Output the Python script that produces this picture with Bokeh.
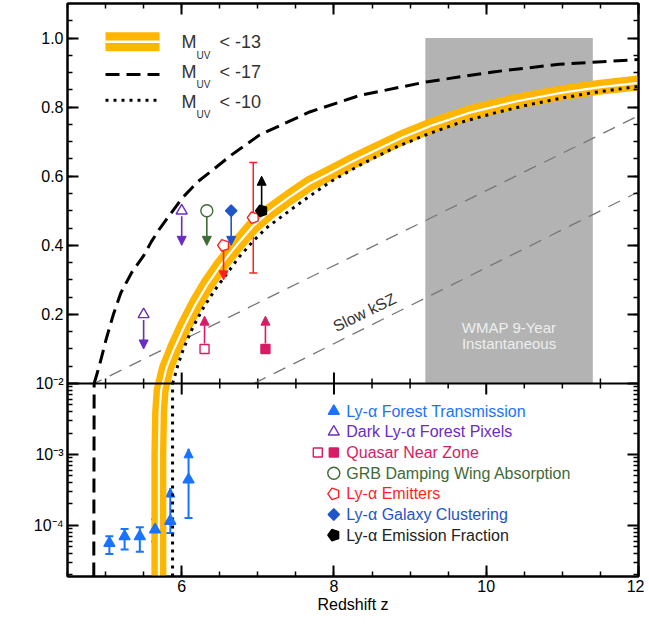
import numpy as np
from bokeh.plotting import figure
from bokeh.models import (Range1d, LogScale, LinearAxis, FixedTicker, SingleIntervalTicker,
                          CustomJSTickFormatter, Span, Label, Arrow, NormalHead, TeeHead,
                          Whisker, ColumnDataSource)
from bokeh.embed import file_html
from bokeh.resources import INLINE
from bokeh.core.properties import value

# ------------------------------------------------------------------ data
# 1 - Q_HII histories (linear panel)
z_m13 = [5.75, 5.80, 5.90, 6.04, 6.19, 6.34, 6.52, 6.72, 6.93, 7.15, 7.42, 7.68, 7.94,
         8.20, 8.50, 8.90, 9.30, 9.80, 10.40, 11.00, 11.50, 12.00]
q_m13 = [0.0, 0.045, 0.10, 0.168, 0.232, 0.288, 0.345, 0.40, 0.454, 0.497, 0.54, 0.579, 0.608,
         0.638, 0.67, 0.712, 0.748, 0.785, 0.817, 0.842, 0.858, 0.87]
z_m17 = [4.85, 4.92, 5.01, 5.10, 5.20, 5.34, 5.50, 5.60, 5.70, 5.80, 5.90, 6.00, 6.21, 6.43,
         6.65, 7.02, 7.68, 8.34, 9.21, 10.09, 10.96, 12.00]
q_m17 = [0.0, 0.053, 0.13, 0.198, 0.262, 0.32, 0.37, 0.41, 0.445, 0.475, 0.505, 0.535, 0.584,
         0.622, 0.661, 0.719, 0.786, 0.834, 0.873, 0.902, 0.924, 0.938]
z_m10 = [5.88, 5.90, 5.95, 6.01, 6.08, 6.15, 6.30, 6.45, 6.60, 6.75, 6.93, 7.11, 7.33, 7.55,
         7.77, 7.96, 8.34, 8.77, 9.21, 9.65, 10.09, 10.52, 10.96, 11.40, 12.00]
q_m10 = [0.0, 0.014, 0.053, 0.092, 0.13, 0.164, 0.225, 0.275, 0.32, 0.365, 0.41, 0.45, 0.486,
         0.522, 0.556, 0.585, 0.632, 0.68, 0.72, 0.755, 0.782, 0.805, 0.825, 0.842, 0.86]

# same histories in the log panel (near-vertical drops)
z_m13_log = [5.70, 5.70, 5.71, 5.73, 5.75]
q_m13_log = [1.9e-5, 1e-3, 4e-3, 8e-3, 1e-2]
z_m17_log = [4.845, 4.85]
q_m17_log = [1.9e-5, 1e-2]
z_m10_log = [5.88, 5.88]
q_m10_log = [1.9e-5, 1e-2]

# slow kSZ bounds and WMAP 9-year band
ksz_hi_z = [4.50, 4.85, 12.0]
ksz_hi_q = [0.0, 0.0, 0.775]
ksz_lo_z = [6.95, 12.0]
ksz_lo_q = [0.0, 0.555]
wmap_z = [9.2, 11.4]
wmap_q = [0.0, 1.0]

# observational constraints (linear panel)
dark_z, dark_q, dark_to = [6.00, 5.50], [0.50, 0.20], [0.40, 0.10]
qnz_open_z, qnz_open_q, qnz_open_to = [6.30], [0.10], [0.195]
qnz_fill_z, qnz_fill_q, qnz_fill_to = [7.10], [0.10], [0.195]
grb_z, grb_q, grb_to = [6.33], [0.50], [0.40]
lae_lim_z, lae_lim_q, lae_lim_to = [6.55], [0.40], [0.30]
lae_z, lae_q, lae_hi, lae_lo = [6.94], [0.48], [0.64], [0.32]
clus_z, clus_q, clus_to = [6.65], [0.50], [0.40]
frac_z, frac_q, frac_to = [7.05], [0.50], [0.60]

# Ly-alpha forest transmission (log panel)
lyaf_z = [5.05, 5.25, 5.45, 5.65, 5.85, 6.09]
lyaf_q = [5.6e-5, 7.0e-5, 7.0e-5, 8.7e-5, 1.15e-4, 4.4e-4]
lyaf_hi = [7.0e-5, 8.9e-5, 9.4e-5, 1.22e-4, 3.35e-4, 1.2e-3]
lyaf_lo = [3.95e-5, 4.55e-5, 4.25e-5, 5.9e-5, 7.8e-5, 1.27e-4]
lyaf_hi_arrow = [False, False, False, False, True, True]

legend_labels = ["Ly-α Forest Transmission", "Dark Ly-α Forest Pixels", "Quasar Near Zone",
                 "GRB Damping Wing Absorption", "Ly-α Emitters", "Ly-α Galaxy Clustering",
                 "Ly-α Emission Fraction"]
muv_labels = ["< -13", "< -17", "< -10"]

# ------------------------------------------------------------------ style
ORANGE = "#ffb600"
C_LYAF = "#1a73ff"
C_DARK = "#6a2cc4"
C_QNZ = "#d81b65"
C_GRB = "#3f6a36"
C_LAE = "#ff1f1f"
C_CLUS = "#1f55c8"
C_FRAC = "#000000"
FONT = "Liberation Sans"

H_TOP, H_BOT = 380, 193
V_MAX = 1.1
LOG_MIN, LOG_MAX = 1.9e-5, 1e-2
PX_PER_V = H_TOP / V_MAX
V_MIN = -H_BOT / PX_PER_V
DEC_PX = H_BOT / np.log10(LOG_MAX / LOG_MIN)
LOG_TOP = LOG_MAX * 10 ** (H_TOP / DEC_PX)
V_PER_DEC = DEC_PX / PX_PER_V
X_LO, X_HI = 4.5, 12.0
FRAME_W = 571
PX_PER_Z = FRAME_W / (X_HI - X_LO)

p = figure(frame_width=FRAME_W, frame_height=H_TOP + H_BOT,
           x_range=Range1d(X_LO, X_HI), y_range=Range1d(V_MIN, V_MAX),
           x_axis_location=None, y_axis_location=None,
           output_backend="svg", toolbar_location=None,
           min_border_left=67, min_border_right=6, min_border_top=3, min_border_bottom=0)
p.extra_y_ranges = {"log": Range1d(LOG_MIN, LOG_TOP)}
p.extra_y_scales = {"log": LogScale()}
p.outline_line_color = "black"
p.outline_line_width = 2
p.background_fill_color = "white"
p.border_fill_color = "white"
p.grid.visible = False

# ------------------------------------------------------------------ axes
lin_major = [0.2, 0.4, 0.6, 0.8, 1.0]
lin_minor = [round(0.05 * k, 2) for k in range(1, 22)]
log_major = [(e + 2) * V_PER_DEC for e in (-2, -3, -4)]
log_minor = [np.log10(m * 10.0 ** e / LOG_MAX) * V_PER_DEC
             for e in (-5, -4, -3) for m in range(2, 10) if m * 10.0 ** e >= LOG_MIN]
yticker = FixedTicker(ticks=lin_major + log_major, minor_ticks=lin_minor + log_minor)
xticker = SingleIntervalTicker(interval=2, num_minor_ticks=4)

yfmt = CustomJSTickFormatter(args=dict(d=V_PER_DEC), code="""
if (tick > 0.1) { return tick.toFixed(1); }
const e = Math.round(tick / d) - 2;
const sup = {'-': '\u207b', '0': '\u2070', '1': '\u00b9', '2': '\u00b2', '3': '\u00b3',
             '4': '\u2074', '5': '\u2075', '6': '\u2076'};
return '10' + String(e).split('').map(c => sup[c]).join('');
""")
blank = CustomJSTickFormatter(code="return '';")


def style_axis(ax, labels):
    ax.axis_line_color = "black"
    ax.axis_line_width = 2
    ax.major_tick_in = 11
    ax.major_tick_out = 0
    ax.minor_tick_in = 5
    ax.minor_tick_out = 0
    ax.major_tick_line_width = 2
    ax.minor_tick_line_width = 1.5
    ax.major_label_text_font = FONT
    ax.major_label_text_font_size = "16px"
    ax.major_label_text_color = "black"
    ax.major_label_standoff = 4 if labels else 0
    ax.axis_label_standoff = 0


left = LinearAxis(ticker=yticker, formatter=yfmt)
right = LinearAxis(ticker=yticker, formatter=blank)
top = LinearAxis(ticker=xticker, formatter=blank)
bottom = LinearAxis(ticker=xticker, axis_label="Redshift z",
                    axis_label_text_font=FONT, axis_label_text_font_size="16px",
                    axis_label_text_font_style="normal", axis_label_text_color="black")
for ax, lab in ((left, True), (right, False), (top, False), (bottom, True)):
    style_axis(ax, lab)
bottom.major_label_standoff = 3
bottom.axis_label_standoff = 1
p.add_layout(left, "left")
p.add_layout(right, "right")
p.add_layout(top, "above")
p.add_layout(bottom, "below")

# panel separator with ticks on both sides
p.add_layout(Span(location=0, dimension="width", line_color="black", line_width=2))
tick_x = np.arange(X_LO + 0.5, X_HI, 0.5)
is_major = np.mod(tick_x, 2.0) == 0
tick_len = np.where(is_major, 11, 5) / PX_PER_V
tick_w = np.where(is_major, 2.0, 1.5)
p.segment(x0=tick_x, y0=np.zeros_like(tick_x), x1=tick_x, y1=tick_len,
          line_color="black", line_width=tick_w)
p.segment(x0=tick_x, y0=np.zeros_like(tick_x), x1=tick_x, y1=-tick_len,
          line_color="black", line_width=tick_w)

# axis title 1 - Q_HII
p.add_layout(Label(x=X_LO + (17 - 68) / PX_PER_Z, y=(385 - 278) / PX_PER_V, text="1 - Q",
                   angle=np.pi / 2, text_align="center", text_baseline="middle",
                   text_font=FONT, text_font_size="17px", text_color="#222222"))
p.add_layout(Label(x=X_LO + (30.5 - 68) / PX_PER_Z, y=(385 - 242) / PX_PER_V, text="HII",
                   angle=np.pi / 2, text_align="center", text_baseline="middle",
                   text_font=FONT, text_font_size="11px", text_color="#222222"))

# ------------------------------------------------------------------ model curves
p.quad(left=[wmap_z[0]], right=[wmap_z[1]], bottom=[wmap_q[0]], top=[wmap_q[1]],
       fill_color="#b3b3b3", line_color=None)
p.text(x=[(wmap_z[0] + wmap_z[1]) / 2] * 2, y=[0.163, 0.115],
       text=["WMAP 9-Year", "Instantaneous"], text_align="center", text_baseline="middle",
       text_font=value(FONT), text_font_size="15px", text_color="#eeeeee")

for zz, qq in ((ksz_hi_z, ksz_hi_q), (ksz_lo_z, ksz_lo_q)):
    p.line(zz, qq, line_color="#777777", line_width=1.3, line_dash="13 9")
ksz_slope = (ksz_hi_q[-1] - ksz_hi_q[-2]) / (ksz_hi_z[-1] - ksz_hi_z[-2])
p.text(x=[8.4], y=[0.206], text=["Slow kSZ"],
       angle=np.arctan(ksz_slope * PX_PER_V / PX_PER_Z),
       text_align="center", text_baseline="middle",
       text_font=value(FONT), text_font_size="16px", text_color="#333333")

p.line(z_m17, q_m17, line_color="black", line_width=3, line_dash="14 7")
p.line(z_m17_log, q_m17_log, y_range_name="log", line_color="black", line_width=3, line_dash="14 7")
p.line(z_m13, q_m13, line_color=ORANGE, line_width=15, line_join="round")
p.line(z_m13_log, q_m13_log, y_range_name="log", line_color=ORANGE, line_width=15, line_join="round")
p.line(z_m13, q_m13, line_color="white", line_width=2.2, line_join="round")
p.line(z_m13_log, q_m13_log, y_range_name="log", line_color="white", line_width=2.2)
p.line(z_m10, q_m10, line_color="black", line_width=3, line_dash="3 5")
p.line(z_m10_log, q_m10_log, y_range_name="log", line_color="black", line_width=3, line_dash="3 5")

# M_UV legend (top left)
leg_x = [X_LO + (106 - 68) / PX_PER_Z, X_LO + (160 - 68) / PX_PER_Z]
line_rows = [V_MAX - r / PX_PER_V for r in (38.3, 71.0, 96.7)]
text_rows = [V_MAX - r / PX_PER_V for r in (38.7, 68.3, 98.3)]
p.line(leg_x, [line_rows[0]] * 2, line_color=ORANGE, line_width=19)
p.line(leg_x, [line_rows[0]] * 2, line_color="white", line_width=2.5)
p.line(leg_x, [line_rows[1]] * 2, line_color="black", line_width=3, line_dash="14 7")
p.line(leg_x, [line_rows[2]] * 2, line_color="black", line_width=3, line_dash="3 5")
m_x = X_LO + (182 - 68) / PX_PER_Z
p.text(x=[m_x] * 3, y=text_rows, text=["M"] * 3, text_baseline="middle",
       text_font=value(FONT), text_font_size="18px", text_color="#333333")
p.text(x=[m_x + 15 / PX_PER_Z] * 3, y=[t - 13 / PX_PER_V for t in text_rows], text=["UV"] * 3,
       text_baseline="middle", text_font=value(FONT), text_font_size="10px", text_color="#333333")
p.text(x=[m_x + 38 / PX_PER_Z] * 3, y=text_rows, text=muv_labels, text_baseline="middle",
       text_font=value(FONT), text_font_size="18px", text_color="#333333")

# ------------------------------------------------------------------ constraints
EDGE = 5.5 / PX_PER_V


def limit(x, y, to, color):
    start = [yy + (EDGE if t > yy else -EDGE) for yy, t in zip(y, to)]
    src = ColumnDataSource(dict(x=x, y0=start, y1=to))
    p.add_layout(Arrow(source=src, x_start="x", y_start="y0", x_end="x", y_end="y1",
                       line_color=color, line_width=1.6,
                       end=NormalHead(size=9, fill_color=color, line_color=color, line_width=1)))


def mark(kind, x, y, color, filled, size, yr="default"):
    kw = dict(line_color=color, fill_color=color if filled else "white", line_width=1.4,
              y_range_name=yr)
    if kind == "pentagon":
        p.ngon(x=x, y=y, radius=size / 2, radius_units="screen", n=5, angle=np.pi / 2, **kw)
    elif kind == "rhombus":
        p.scatter(x=x, y=y, marker="square", angle=np.pi / 4, size=size, **kw)
    else:
        p.scatter(x=x, y=y, marker=kind, size=size, **kw)


limit(dark_z, dark_q, dark_to, C_DARK)
limit(qnz_open_z, qnz_open_q, qnz_open_to, C_QNZ)
limit(qnz_fill_z, qnz_fill_q, qnz_fill_to, C_QNZ)
limit(grb_z, grb_q, grb_to, C_GRB)
limit(lae_lim_z, lae_lim_q, lae_lim_to, C_LAE)
limit(clus_z, clus_q, clus_to, C_CLUS)
limit(frac_z, frac_q, frac_to, C_FRAC)
p.add_layout(Whisker(source=ColumnDataSource(dict(x=lae_z, hi=lae_hi, lo=lae_lo)),
                     base="x", upper="hi", lower="lo", dimension="height",
                     line_color=C_LAE, line_width=1.5,
                     upper_head=TeeHead(size=8, line_color=C_LAE, line_width=1.5),
                     lower_head=TeeHead(size=8, line_color=C_LAE, line_width=1.5)))

mark("triangle", dark_z, dark_q, C_DARK, False, 11)
mark("square", qnz_open_z, qnz_open_q, C_QNZ, False, 9)
mark("square", qnz_fill_z, qnz_fill_q, C_QNZ, True, 9)
mark("circle", grb_z, grb_q, C_GRB, False, 12)
mark("pentagon", lae_lim_z, lae_lim_q, C_LAE, False, 12)
mark("pentagon", lae_z, lae_q, C_LAE, False, 12)
mark("rhombus", clus_z, clus_q, C_CLUS, True, 8)
mark("pentagon", frac_z, frac_q, C_FRAC, True, 12)

# Ly-alpha forest transmission (log panel)
for arrow_flag in (False, True):
    idx = [i for i, f in enumerate(lyaf_hi_arrow) if f == arrow_flag]
    src = ColumnDataSource(dict(x=[lyaf_z[i] for i in idx], hi=[lyaf_hi[i] for i in idx],
                                lo=[lyaf_lo[i] for i in idx]))
    up = (NormalHead(size=9, fill_color=C_LYAF, line_color=C_LYAF, line_width=1) if arrow_flag
          else TeeHead(size=8, line_color=C_LYAF, line_width=2))
    p.add_layout(Whisker(source=src, base="x", upper="hi", lower="lo", dimension="height",
                         y_range_name="log", line_color=C_LYAF, line_width=2,
                         upper_head=up, lower_head=TeeHead(size=8, line_color=C_LYAF, line_width=2)))
mark("triangle", lyaf_z, lyaf_q, C_LYAF, True, 11, "log")

# ------------------------------------------------------------------ data legend (log panel)
leg_rows = [LOG_MAX * 10 ** (-(27.7 + 20.66 * i) / DEC_PX) for i in range(len(legend_labels))]
leg_colors = [C_LYAF, C_DARK, C_QNZ, C_GRB, C_LAE, C_CLUS, "#222222"]
mk_x = X_LO + (334.3 - 68) / PX_PER_Z
mark("triangle", [mk_x], [leg_rows[0]], C_LYAF, True, 11, "log")
mark("triangle", [mk_x], [leg_rows[1]], C_DARK, False, 11, "log")
mark("square", [mk_x - 16 / PX_PER_Z], [leg_rows[2]], C_QNZ, False, 9, "log")
mark("square", [mk_x], [leg_rows[2]], C_QNZ, True, 9, "log")
mark("circle", [mk_x], [leg_rows[3]], C_GRB, False, 12, "log")
mark("pentagon", [mk_x], [leg_rows[4]], C_LAE, False, 12, "log")
mark("rhombus", [mk_x], [leg_rows[5]], C_CLUS, True, 8, "log")
mark("pentagon", [mk_x], [leg_rows[6]], C_FRAC, True, 12, "log")
leg_src = ColumnDataSource(dict(x=[mk_x + 12.5 / PX_PER_Z] * len(legend_labels), y=leg_rows,
                                text=legend_labels, color=leg_colors))
p.text(x="x", y="y", text="text", text_color="color", source=leg_src, y_range_name="log",
       text_baseline="middle", text_font=value(FONT), text_font_size="16px")

open("out.html", "w").write(file_html(p, INLINE, title="Reionization history"))
